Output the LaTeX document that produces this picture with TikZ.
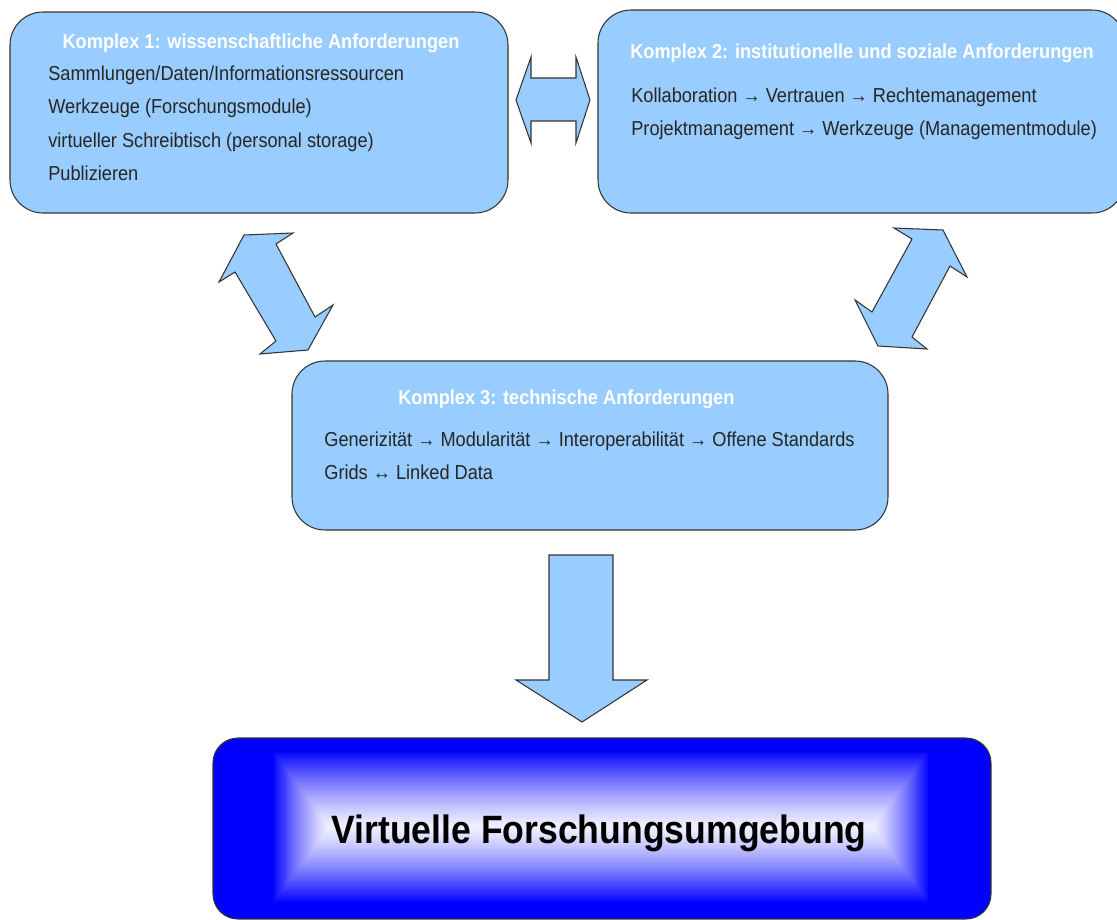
\documentclass[tikz,border=0pt]{standalone}
\usepackage{fontspec}
\setmainfont{Liberation Sans}
\newfontfamily\boxfont[FakeStretch=0.9]{Liberation Sans}
\definecolor{boxblue}{HTML}{99CCFF}
\definecolor{edgegray}{HTML}{333333}
\tikzset{
  komplex/.style={fill=boxblue, draw=edgegray, line width=0.6pt, rounded corners=0.66cm},
  blockarrow/.style={fill=boxblue, draw=edgegray, line width=0.6pt, line join=miter},
  titel/.style={anchor=base west, inner sep=0pt, text=white, font=\boxfont\bfseries\fontsize{11.5}{13}\selectfont},
  zeile/.style={anchor=base west, inner sep=0pt, text=black!85, font=\boxfont\fontsize{11.5}{13}\selectfont},
}

\begin{document}
\begin{tikzpicture}[x=0.02cm, y=-0.02cm]
			\useasboundingbox (0,0) rectangle (1117,920);

			\draw[komplex] (10,12) rectangle (508,213);
			\node[titel, anchor=base] (k1titel) at (261,48) {Komplex 1: wissenschaftliche Anforderungen};
			\node[zeile] (k1a) at (48,80) {Sammlungen/Daten/Informationsressourcen};
			\node[zeile] (k1b) at (48,113) {Werkzeuge (Forschungsmodule)};
			\node[zeile] (k1c) at (48,147) {virtueller Schreibtisch (personal storage)};
			\node[zeile] (k1d) at (48,180) {Publizieren};

			\draw[komplex] (598,10) rectangle (1125,213);
			\node[titel, anchor=base] (k2titel) at (862,58) {Komplex 2: institutionelle und soziale Anforderungen};
			\node[zeile] (k2a) at (631,102) {Kollaboration → Vertrauen → Rechtemanagement};
			\node[zeile] (k2b) at (631,135) {Projektmanagement → Werkzeuge (Managementmodule)};

			\draw[komplex] (292,361) rectangle (888,530);
			\node[titel] (k3titel) at (398,404) {Komplex 3: technische Anforderungen};
			\node[zeile] (k3a) at (324,446) {Generizität → Modularität → Interoperabilität → Offene Standards};
			\node[zeile] (k3b) at (324,479) {Grids ↔ Linked Data};

			\draw[blockarrow] (516,100) -- (531,57) -- (531,78) -- (576,78) -- (576,57) -- (590,100) -- (576,143) -- (576,121) -- (531,121) -- (531,143) -- cycle;
			\draw[blockarrow] (244,235) -- (293,233) -- (276,244) -- (315,317) -- (333,305) -- (308,350) -- (260,354) -- (276,341) -- (235,272) -- (219,282) -- cycle;
			\draw[blockarrow] (894,228) -- (943,230) -- (967,277) -- (950,266) -- (912,337) -- (927,349) -- (878,346) -- (855,300) -- (872,312) -- (912,239) -- cycle;
			\draw[blockarrow] (549,555) -- (613,555) -- (613,680) -- (647,680) -- (582,722) -- (516,680) -- (549,680) -- cycle;

			\begin{scope}
				\clip[rounded corners=0.5cm] (213,738) rectangle (991,919);
				\fill[blue] (213,738) rectangle (991,919);
				\foreach \i in {0,...,60}{
					\pgfmathsetmacro{\f}{\i/60}
					\pgfmathsetmacro{\mix}{6+94*(1-\f)^1.3}
					\fill[blue!\mix!white] (272+58*\f,750+77*\f) rectangle (930-58*\f,904-77*\f);
				}
			\end{scope}
			\draw[draw=edgegray, line width=0.6pt, rounded corners=0.5cm] (213,738) rectangle (991,919);
			\node[anchor=base, inner sep=0pt, font=\boxfont\bfseries\fontsize{22.5}{26}\selectfont] (vfu) at (599,843) {Virtuelle Forschungsumgebung};
		\end{tikzpicture}
\end{document}
